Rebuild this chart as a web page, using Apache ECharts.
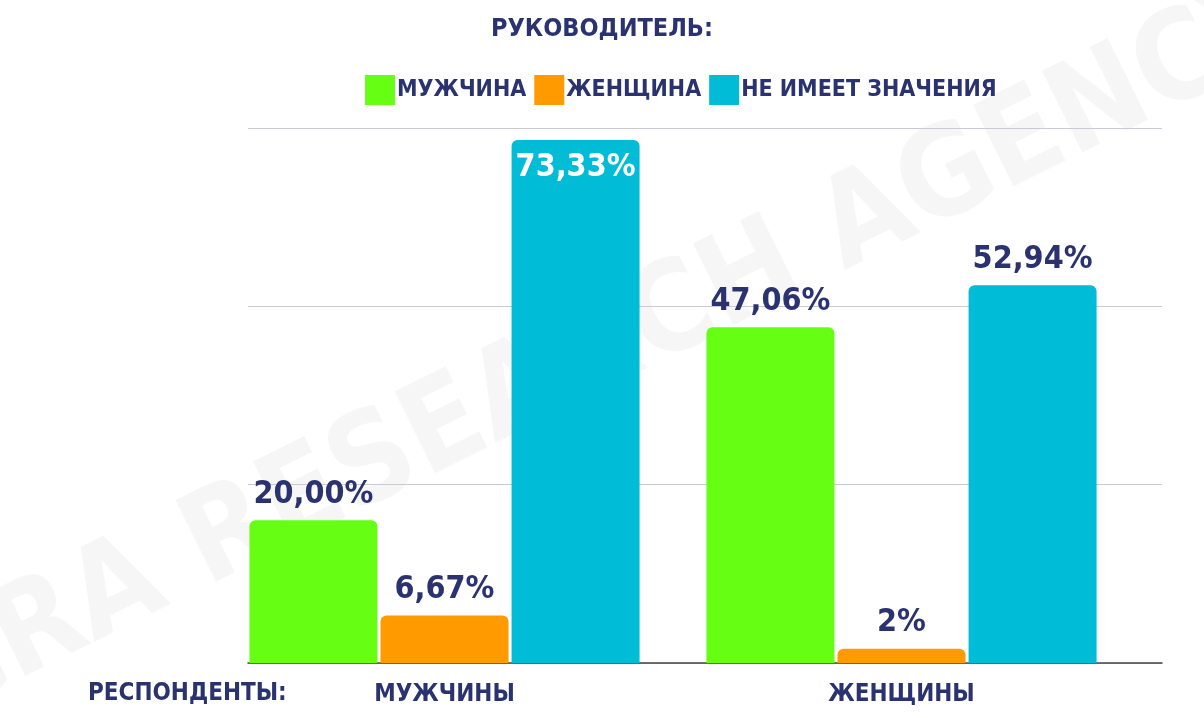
<!DOCTYPE html>
<html><head><meta charset="utf-8">
<script src="https://cdn.jsdelivr.net/npm/echarts@6/dist/echarts.min.js"></script>
<style>html,body{margin:0;background:#fff}#c{width:1204px;height:718px}</style>
</head><body><div id="c"></div>
<script>
const categories = ['МУЖЧИНЫ', 'ЖЕНЩИНЫ'];
const seriesNames = ['МУЖЧИНА', 'ЖЕНЩИНА', 'НЕ ИМЕЕТ ЗНАЧЕНИЯ'];
const male = [20.00, 47.06];
const female = [6.67, 2];
const any = [73.33, 52.94];
const labelText = [['20,00%', '47,06%'], ['6,67%', '2%'], ['73,33%', '52,94%']];
const colors = ['#66ff14', '#ff9a00', '#00bcd6'];

const FONT = '"DejaVu Sans Condensed","Liberation Sans Narrow",sans-serif';
const NAVY = '#2a3370';

const chart = echarts.init(document.getElementById('c'));
const values = [male, female, any];

chart.setOption({
  title: { text: 'РУКОВОДИТЕЛЬ:', left: 'center', top: 12,
    textStyle: { color: NAVY, fontFamily: FONT, fontWeight: 'bold', fontSize: 25 } },
  legend: { top: 70, left: 360, itemWidth: 30, itemHeight: 30, itemGap: 8,
    icon: 'rect', data: seriesNames,
    textStyle: { color: NAVY, fontFamily: FONT, fontWeight: 'bold', fontSize: 23, padding: [0, 0, 0, -3] } },
  graphic: [
    { type: 'text', left: 88, top: 682,
      style: { text: 'РЕСПОНДЕНТЫ:', fill: NAVY, font: 'bold 24px ' + FONT } },
    { type: 'text', x: 590, y: 360, rotation: 0.46,
      style: { text: 'ICRA RESEARCH AGENCY', fill: 'rgba(0,0,0,0.035)', font: 'bold 125px ' + FONT,
        align: 'center', verticalAlign: 'middle' }, z: -1 }
  ],
  grid: [
    { left: 216, right: 74, top: 128, bottom: 55 },
    { left: 248, right: 42, top: 128, bottom: 55 }
  ],
  xAxis: [
    { type: 'category', data: categories, gridIndex: 0,
      axisLine: { show: false }, axisTick: { show: false },
      axisLabel: { color: NAVY, fontFamily: FONT, fontWeight: 'bold', fontSize: 24, margin: 20 } },
    { type: 'category', data: categories, gridIndex: 1,
      axisLine: { lineStyle: { color: '#444', width: 1.5 } }, axisTick: { show: false },
      axisLabel: { show: false } }
  ],
  yAxis: [
    { type: 'value', min: 0, max: 75, interval: 25, gridIndex: 0, show: false, splitLine: { show: false } },
    { type: 'value', min: 0, max: 75, interval: 25, gridIndex: 1,
      axisLabel: { show: false }, axisLine: { show: false }, axisTick: { show: false },
      splitLine: { lineStyle: { color: '#c8cbd4', width: 1 } } }
  ],
  series: seriesNames.map((name, i) => ({
    name, type: 'bar', xAxisIndex: 0, yAxisIndex: 0,
    barWidth: 128, barGap: '2.4%',
    itemStyle: { color: colors[i], borderRadius: [6, 6, 0, 0] },
    data: values[i].map((v, j) => ({
      value: v,
      label: {
        show: true,
        position: (v > 70) ? 'insideTop' : 'top',
        distance: (v > 70) ? 12 : 10,
        color: (v > 70) ? '#fff' : NAVY,
        formatter: labelText[i][j],
        fontFamily: FONT, fontWeight: 'bold', fontSize: 32
      }
    }))
  }))
});
</script></body></html>
